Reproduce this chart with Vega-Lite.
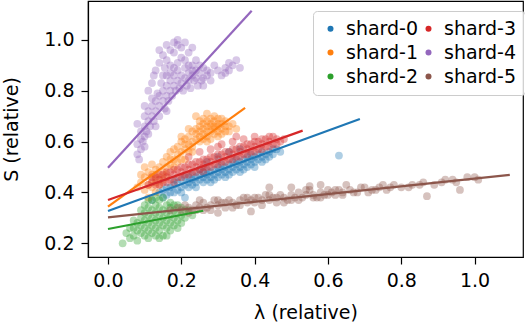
{
  "$schema": "https://vega.github.io/schema/vega-lite/v6.json",
  "width": 435,
  "height": 256,
  "autosize": {"type": "none"},
  "padding": {"left": 88, "top": 1, "right": 2, "bottom": 73},
  "background": "white",
  "config": {
    "font": "DejaVu Sans",
    "view": {"stroke": "#000", "strokeWidth": 1.2},
    "axis": {"domainColor": "#000", "domainWidth": 1.2, "tickColor": "#000", "tickWidth": 1.2, "tickSize": 7, "labelFontSize": 19, "titleFontSize": 19, "labelColor": "#000", "titleColor": "#000", "titleFontWeight": "normal", "grid": false, "labelFont": "DejaVu Sans", "titleFont": "DejaVu Sans", "labelPadding": 7}
  },
  "datasets": {
    "pts": [
      {"shard":"shard-0","lam":0.14,"S":0.40},{"shard":"shard-0","lam":0.15,"S":0.41},{"shard":"shard-0","lam":0.16,"S":0.39},{"shard":"shard-0","lam":0.17,"S":0.42},{"shard":"shard-0","lam":0.17,"S":0.40},{"shard":"shard-0","lam":0.18,"S":0.43},{"shard":"shard-0","lam":0.19,"S":0.41},{"shard":"shard-0","lam":0.19,"S":0.44},{"shard":"shard-0","lam":0.20,"S":0.42},{"shard":"shard-0","lam":0.20,"S":0.45},{"shard":"shard-0","lam":0.21,"S":0.43},{"shard":"shard-0","lam":0.22,"S":0.44},{"shard":"shard-0","lam":0.22,"S":0.46},{"shard":"shard-0","lam":0.23,"S":0.45},{"shard":"shard-0","lam":0.23,"S":0.43},{"shard":"shard-0","lam":0.24,"S":0.46},{"shard":"shard-0","lam":0.24,"S":0.44},{"shard":"shard-0","lam":0.25,"S":0.47},{"shard":"shard-0","lam":0.25,"S":0.45},{"shard":"shard-0","lam":0.26,"S":0.46},{"shard":"shard-0","lam":0.26,"S":0.48},{"shard":"shard-0","lam":0.27,"S":0.47},{"shard":"shard-0","lam":0.27,"S":0.45},{"shard":"shard-0","lam":0.28,"S":0.48},{"shard":"shard-0","lam":0.28,"S":0.46},{"shard":"shard-0","lam":0.29,"S":0.49},{"shard":"shard-0","lam":0.29,"S":0.47},{"shard":"shard-0","lam":0.30,"S":0.48},{"shard":"shard-0","lam":0.30,"S":0.50},{"shard":"shard-0","lam":0.31,"S":0.49},{"shard":"shard-0","lam":0.31,"S":0.47},{"shard":"shard-0","lam":0.32,"S":0.50},{"shard":"shard-0","lam":0.32,"S":0.48},{"shard":"shard-0","lam":0.33,"S":0.51},{"shard":"shard-0","lam":0.33,"S":0.49},{"shard":"shard-0","lam":0.34,"S":0.50},{"shard":"shard-0","lam":0.34,"S":0.52},{"shard":"shard-0","lam":0.35,"S":0.51},{"shard":"shard-0","lam":0.35,"S":0.49},{"shard":"shard-0","lam":0.36,"S":0.52},{"shard":"shard-0","lam":0.36,"S":0.50},{"shard":"shard-0","lam":0.37,"S":0.53},{"shard":"shard-0","lam":0.37,"S":0.51},{"shard":"shard-0","lam":0.38,"S":0.52},{"shard":"shard-0","lam":0.38,"S":0.54},{"shard":"shard-0","lam":0.39,"S":0.53},{"shard":"shard-0","lam":0.40,"S":0.54},{"shard":"shard-0","lam":0.40,"S":0.52},{"shard":"shard-0","lam":0.41,"S":0.55},{"shard":"shard-0","lam":0.42,"S":0.54},{"shard":"shard-0","lam":0.42,"S":0.56},{"shard":"shard-0","lam":0.43,"S":0.55},{"shard":"shard-0","lam":0.44,"S":0.56},{"shard":"shard-0","lam":0.45,"S":0.57},{"shard":"shard-0","lam":0.46,"S":0.57},{"shard":"shard-0","lam":0.30,"S":0.54},{"shard":"shard-0","lam":0.33,"S":0.56},{"shard":"shard-0","lam":0.27,"S":0.52},{"shard":"shard-0","lam":0.36,"S":0.57},{"shard":"shard-0","lam":0.63,"S":0.545},{"shard":"shard-0","lam":0.12,"S":0.37},{"shard":"shard-0","lam":0.21,"S":0.38},
      {"shard":"shard-0","lam":0.15,"S":0.38},{"shard":"shard-0","lam":0.16,"S":0.42},{"shard":"shard-0","lam":0.18,"S":0.40},{"shard":"shard-0","lam":0.18,"S":0.45},{"shard":"shard-0","lam":0.20,"S":0.40},{"shard":"shard-0","lam":0.21,"S":0.46},{"shard":"shard-0","lam":0.22,"S":0.42},{"shard":"shard-0","lam":0.23,"S":0.47},{"shard":"shard-0","lam":0.24,"S":0.42},{"shard":"shard-0","lam":0.25,"S":0.49},{"shard":"shard-0","lam":0.26,"S":0.44},{"shard":"shard-0","lam":0.27,"S":0.49},{"shard":"shard-0","lam":0.28,"S":0.44},{"shard":"shard-0","lam":0.29,"S":0.45},{"shard":"shard-0","lam":0.30,"S":0.46},{"shard":"shard-0","lam":0.31,"S":0.51},{"shard":"shard-0","lam":0.32,"S":0.46},{"shard":"shard-0","lam":0.33,"S":0.47},{"shard":"shard-0","lam":0.34,"S":0.48},{"shard":"shard-0","lam":0.35,"S":0.53},{"shard":"shard-0","lam":0.36,"S":0.48},{"shard":"shard-0","lam":0.37,"S":0.49},{"shard":"shard-0","lam":0.38,"S":0.50},{"shard":"shard-0","lam":0.39,"S":0.51},{"shard":"shard-0","lam":0.39,"S":0.55},{"shard":"shard-0","lam":0.40,"S":0.50},{"shard":"shard-0","lam":0.41,"S":0.53},{"shard":"shard-0","lam":0.42,"S":0.52},{"shard":"shard-0","lam":0.43,"S":0.53},{"shard":"shard-0","lam":0.44,"S":0.54},{"shard":"shard-0","lam":0.45,"S":0.55},{"shard":"shard-0","lam":0.47,"S":0.56},
      {"shard":"shard-1","lam":0.08,"S":0.42},{"shard":"shard-1","lam":0.09,"S":0.44},{"shard":"shard-1","lam":0.10,"S":0.41},{"shard":"shard-1","lam":0.10,"S":0.46},{"shard":"shard-1","lam":0.11,"S":0.43},{"shard":"shard-1","lam":0.11,"S":0.48},{"shard":"shard-1","lam":0.12,"S":0.45},{"shard":"shard-1","lam":0.12,"S":0.47},{"shard":"shard-1","lam":0.13,"S":0.44},{"shard":"shard-1","lam":0.13,"S":0.49},{"shard":"shard-1","lam":0.14,"S":0.46},{"shard":"shard-1","lam":0.14,"S":0.50},{"shard":"shard-1","lam":0.15,"S":0.48},{"shard":"shard-1","lam":0.15,"S":0.52},{"shard":"shard-1","lam":0.16,"S":0.50},{"shard":"shard-1","lam":0.16,"S":0.54},{"shard":"shard-1","lam":0.17,"S":0.51},{"shard":"shard-1","lam":0.17,"S":0.56},{"shard":"shard-1","lam":0.18,"S":0.53},{"shard":"shard-1","lam":0.18,"S":0.57},{"shard":"shard-1","lam":0.19,"S":0.55},{"shard":"shard-1","lam":0.19,"S":0.58},{"shard":"shard-1","lam":0.20,"S":0.56},{"shard":"shard-1","lam":0.20,"S":0.60},{"shard":"shard-1","lam":0.21,"S":0.57},{"shard":"shard-1","lam":0.21,"S":0.61},{"shard":"shard-1","lam":0.22,"S":0.59},{"shard":"shard-1","lam":0.22,"S":0.62},{"shard":"shard-1","lam":0.23,"S":0.60},{"shard":"shard-1","lam":0.23,"S":0.64},{"shard":"shard-1","lam":0.24,"S":0.61},{"shard":"shard-1","lam":0.24,"S":0.65},{"shard":"shard-1","lam":0.25,"S":0.62},{"shard":"shard-1","lam":0.25,"S":0.66},{"shard":"shard-1","lam":0.25,"S":0.64},{"shard":"shard-1","lam":0.26,"S":0.63},{"shard":"shard-1","lam":0.26,"S":0.67},{"shard":"shard-1","lam":0.26,"S":0.65},{"shard":"shard-1","lam":0.27,"S":0.62},{"shard":"shard-1","lam":0.27,"S":0.66},{"shard":"shard-1","lam":0.27,"S":0.68},{"shard":"shard-1","lam":0.28,"S":0.64},{"shard":"shard-1","lam":0.28,"S":0.67},{"shard":"shard-1","lam":0.28,"S":0.61},{"shard":"shard-1","lam":0.29,"S":0.65},{"shard":"shard-1","lam":0.29,"S":0.68},{"shard":"shard-1","lam":0.29,"S":0.63},{"shard":"shard-1","lam":0.30,"S":0.66},{"shard":"shard-1","lam":0.30,"S":0.64},{"shard":"shard-1","lam":0.30,"S":0.69},{"shard":"shard-1","lam":0.31,"S":0.65},{"shard":"shard-1","lam":0.31,"S":0.67},{"shard":"shard-1","lam":0.32,"S":0.66},{"shard":"shard-1","lam":0.33,"S":0.64},{"shard":"shard-1","lam":0.24,"S":0.70},{"shard":"shard-1","lam":0.27,"S":0.71},{"shard":"shard-1","lam":0.29,"S":0.70},{"shard":"shard-1","lam":0.11,"S":0.38},{"shard":"shard-1","lam":0.13,"S":0.40},{"shard":"shard-1","lam":0.21,"S":0.53},{"shard":"shard-1","lam":0.23,"S":0.56},{"shard":"shard-1","lam":0.34,"S":0.67},
      {"shard":"shard-1","lam":0.09,"S":0.47},{"shard":"shard-1","lam":0.10,"S":0.50},{"shard":"shard-1","lam":0.12,"S":0.42},{"shard":"shard-1","lam":0.12,"S":0.51},{"shard":"shard-1","lam":0.13,"S":0.47},{"shard":"shard-1","lam":0.14,"S":0.43},{"shard":"shard-1","lam":0.15,"S":0.45},{"shard":"shard-1","lam":0.16,"S":0.47},{"shard":"shard-1","lam":0.17,"S":0.53},{"shard":"shard-1","lam":0.18,"S":0.50},{"shard":"shard-1","lam":0.19,"S":0.52},{"shard":"shard-1","lam":0.20,"S":0.53},{"shard":"shard-1","lam":0.21,"S":0.59},{"shard":"shard-1","lam":0.22,"S":0.56},{"shard":"shard-1","lam":0.23,"S":0.58},{"shard":"shard-1","lam":0.24,"S":0.63},{"shard":"shard-1","lam":0.25,"S":0.68},{"shard":"shard-1","lam":0.26,"S":0.61},{"shard":"shard-1","lam":0.26,"S":0.69},{"shard":"shard-1","lam":0.27,"S":0.64},{"shard":"shard-1","lam":0.28,"S":0.69},{"shard":"shard-1","lam":0.28,"S":0.66},{"shard":"shard-1","lam":0.29,"S":0.66},{"shard":"shard-1","lam":0.30,"S":0.62},{"shard":"shard-1","lam":0.30,"S":0.67},{"shard":"shard-1","lam":0.31,"S":0.63},{"shard":"shard-1","lam":0.31,"S":0.69},{"shard":"shard-1","lam":0.32,"S":0.64},{"shard":"shard-1","lam":0.32,"S":0.68},{"shard":"shard-1","lam":0.33,"S":0.66},{"shard":"shard-1","lam":0.25,"S":0.60},{"shard":"shard-1","lam":0.27,"S":0.60},{"shard":"shard-1","lam":0.22,"S":0.65},{"shard":"shard-1","lam":0.20,"S":0.62},{"shard":"shard-1","lam":0.35,"S":0.65},
      {"shard":"shard-2","lam":0.05,"S":0.24},{"shard":"shard-2","lam":0.06,"S":0.22},{"shard":"shard-2","lam":0.07,"S":0.26},{"shard":"shard-2","lam":0.07,"S":0.23},{"shard":"shard-2","lam":0.08,"S":0.28},{"shard":"shard-2","lam":0.08,"S":0.25},{"shard":"shard-2","lam":0.09,"S":0.30},{"shard":"shard-2","lam":0.09,"S":0.27},{"shard":"shard-2","lam":0.09,"S":0.24},{"shard":"shard-2","lam":0.10,"S":0.32},{"shard":"shard-2","lam":0.10,"S":0.29},{"shard":"shard-2","lam":0.10,"S":0.26},{"shard":"shard-2","lam":0.10,"S":0.23},{"shard":"shard-2","lam":0.11,"S":0.34},{"shard":"shard-2","lam":0.11,"S":0.31},{"shard":"shard-2","lam":0.11,"S":0.28},{"shard":"shard-2","lam":0.11,"S":0.25},{"shard":"shard-2","lam":0.12,"S":0.33},{"shard":"shard-2","lam":0.12,"S":0.30},{"shard":"shard-2","lam":0.12,"S":0.27},{"shard":"shard-2","lam":0.12,"S":0.24},{"shard":"shard-2","lam":0.13,"S":0.35},{"shard":"shard-2","lam":0.13,"S":0.32},{"shard":"shard-2","lam":0.13,"S":0.29},{"shard":"shard-2","lam":0.13,"S":0.26},{"shard":"shard-2","lam":0.14,"S":0.34},{"shard":"shard-2","lam":0.14,"S":0.31},{"shard":"shard-2","lam":0.14,"S":0.28},{"shard":"shard-2","lam":0.14,"S":0.25},{"shard":"shard-2","lam":0.15,"S":0.33},{"shard":"shard-2","lam":0.15,"S":0.30},{"shard":"shard-2","lam":0.15,"S":0.27},{"shard":"shard-2","lam":0.15,"S":0.23},{"shard":"shard-2","lam":0.16,"S":0.35},{"shard":"shard-2","lam":0.16,"S":0.32},{"shard":"shard-2","lam":0.16,"S":0.29},{"shard":"shard-2","lam":0.16,"S":0.26},{"shard":"shard-2","lam":0.17,"S":0.34},{"shard":"shard-2","lam":0.17,"S":0.31},{"shard":"shard-2","lam":0.17,"S":0.28},{"shard":"shard-2","lam":0.18,"S":0.33},{"shard":"shard-2","lam":0.18,"S":0.30},{"shard":"shard-2","lam":0.18,"S":0.27},{"shard":"shard-2","lam":0.19,"S":0.32},{"shard":"shard-2","lam":0.19,"S":0.29},{"shard":"shard-2","lam":0.20,"S":0.31},{"shard":"shard-2","lam":0.20,"S":0.34},{"shard":"shard-2","lam":0.21,"S":0.30},{"shard":"shard-2","lam":0.22,"S":0.33},{"shard":"shard-2","lam":0.12,"S":0.37},{"shard":"shard-2","lam":0.15,"S":0.38},{"shard":"shard-2","lam":0.04,"S":0.20},{"shard":"shard-2","lam":0.08,"S":0.21},{"shard":"shard-2","lam":0.23,"S":0.31},
      {"shard":"shard-2","lam":0.09,"S":0.33},{"shard":"shard-2","lam":0.10,"S":0.35},{"shard":"shard-2","lam":0.11,"S":0.37},{"shard":"shard-2","lam":0.13,"S":0.38},{"shard":"shard-2","lam":0.14,"S":0.37},{"shard":"shard-2","lam":0.17,"S":0.36},{"shard":"shard-2","lam":0.18,"S":0.35},{"shard":"shard-2","lam":0.19,"S":0.35},{"shard":"shard-2","lam":0.20,"S":0.28},{"shard":"shard-2","lam":0.21,"S":0.33},{"shard":"shard-2","lam":0.13,"S":0.23},{"shard":"shard-2","lam":0.14,"S":0.22},{"shard":"shard-2","lam":0.11,"S":0.22},{"shard":"shard-2","lam":0.06,"S":0.26},{"shard":"shard-2","lam":0.07,"S":0.29},{"shard":"shard-2","lam":0.17,"S":0.25},{"shard":"shard-2","lam":0.19,"S":0.26},{"shard":"shard-2","lam":0.16,"S":0.23},
      {"shard":"shard-3","lam":0.11,"S":0.43},{"shard":"shard-3","lam":0.12,"S":0.44},{"shard":"shard-3","lam":0.13,"S":0.43},{"shard":"shard-3","lam":0.13,"S":0.46},{"shard":"shard-3","lam":0.14,"S":0.45},{"shard":"shard-3","lam":0.15,"S":0.44},{"shard":"shard-3","lam":0.15,"S":0.47},{"shard":"shard-3","lam":0.16,"S":0.46},{"shard":"shard-3","lam":0.17,"S":0.45},{"shard":"shard-3","lam":0.17,"S":0.48},{"shard":"shard-3","lam":0.18,"S":0.47},{"shard":"shard-3","lam":0.19,"S":0.46},{"shard":"shard-3","lam":0.19,"S":0.49},{"shard":"shard-3","lam":0.20,"S":0.48},{"shard":"shard-3","lam":0.21,"S":0.47},{"shard":"shard-3","lam":0.21,"S":0.50},{"shard":"shard-3","lam":0.22,"S":0.49},{"shard":"shard-3","lam":0.23,"S":0.48},{"shard":"shard-3","lam":0.23,"S":0.51},{"shard":"shard-3","lam":0.24,"S":0.50},{"shard":"shard-3","lam":0.25,"S":0.49},{"shard":"shard-3","lam":0.25,"S":0.52},{"shard":"shard-3","lam":0.26,"S":0.51},{"shard":"shard-3","lam":0.27,"S":0.50},{"shard":"shard-3","lam":0.27,"S":0.53},{"shard":"shard-3","lam":0.28,"S":0.52},{"shard":"shard-3","lam":0.29,"S":0.51},{"shard":"shard-3","lam":0.29,"S":0.54},{"shard":"shard-3","lam":0.30,"S":0.53},{"shard":"shard-3","lam":0.31,"S":0.52},{"shard":"shard-3","lam":0.31,"S":0.55},{"shard":"shard-3","lam":0.32,"S":0.54},{"shard":"shard-3","lam":0.33,"S":0.53},{"shard":"shard-3","lam":0.33,"S":0.56},{"shard":"shard-3","lam":0.34,"S":0.55},{"shard":"shard-3","lam":0.35,"S":0.54},{"shard":"shard-3","lam":0.35,"S":0.57},{"shard":"shard-3","lam":0.36,"S":0.56},{"shard":"shard-3","lam":0.37,"S":0.55},{"shard":"shard-3","lam":0.37,"S":0.58},{"shard":"shard-3","lam":0.38,"S":0.57},{"shard":"shard-3","lam":0.39,"S":0.56},{"shard":"shard-3","lam":0.39,"S":0.59},{"shard":"shard-3","lam":0.40,"S":0.58},{"shard":"shard-3","lam":0.41,"S":0.57},{"shard":"shard-3","lam":0.41,"S":0.60},{"shard":"shard-3","lam":0.42,"S":0.59},{"shard":"shard-3","lam":0.43,"S":0.58},{"shard":"shard-3","lam":0.43,"S":0.61},{"shard":"shard-3","lam":0.44,"S":0.60},{"shard":"shard-3","lam":0.45,"S":0.59},{"shard":"shard-3","lam":0.46,"S":0.61},{"shard":"shard-3","lam":0.47,"S":0.60},{"shard":"shard-3","lam":0.25,"S":0.56},{"shard":"shard-3","lam":0.28,"S":0.57},{"shard":"shard-3","lam":0.31,"S":0.59},{"shard":"shard-3","lam":0.34,"S":0.60},{"shard":"shard-3","lam":0.37,"S":0.61},{"shard":"shard-3","lam":0.40,"S":0.62},{"shard":"shard-3","lam":0.30,"S":0.58},{"shard":"shard-3","lam":0.35,"S":0.62},{"shard":"shard-3","lam":0.22,"S":0.54},{"shard":"shard-3","lam":0.18,"S":0.44},{"shard":"shard-3","lam":0.26,"S":0.48},
      {"shard":"shard-3","lam":0.12,"S":0.46},{"shard":"shard-3","lam":0.14,"S":0.43},{"shard":"shard-3","lam":0.14,"S":0.47},{"shard":"shard-3","lam":0.16,"S":0.44},{"shard":"shard-3","lam":0.16,"S":0.48},{"shard":"shard-3","lam":0.18,"S":0.49},{"shard":"shard-3","lam":0.20,"S":0.46},{"shard":"shard-3","lam":0.20,"S":0.50},{"shard":"shard-3","lam":0.22,"S":0.47},{"shard":"shard-3","lam":0.22,"S":0.51},{"shard":"shard-3","lam":0.24,"S":0.48},{"shard":"shard-3","lam":0.24,"S":0.52},{"shard":"shard-3","lam":0.26,"S":0.50},{"shard":"shard-3","lam":0.26,"S":0.53},{"shard":"shard-3","lam":0.28,"S":0.50},{"shard":"shard-3","lam":0.28,"S":0.54},{"shard":"shard-3","lam":0.30,"S":0.51},{"shard":"shard-3","lam":0.30,"S":0.55},{"shard":"shard-3","lam":0.32,"S":0.52},{"shard":"shard-3","lam":0.32,"S":0.56},{"shard":"shard-3","lam":0.34,"S":0.53},{"shard":"shard-3","lam":0.34,"S":0.57},{"shard":"shard-3","lam":0.36,"S":0.54},{"shard":"shard-3","lam":0.36,"S":0.58},{"shard":"shard-3","lam":0.38,"S":0.55},{"shard":"shard-3","lam":0.38,"S":0.59},{"shard":"shard-3","lam":0.40,"S":0.56},{"shard":"shard-3","lam":0.40,"S":0.60},{"shard":"shard-3","lam":0.42,"S":0.57},{"shard":"shard-3","lam":0.42,"S":0.61},{"shard":"shard-3","lam":0.44,"S":0.58},{"shard":"shard-3","lam":0.44,"S":0.62},{"shard":"shard-3","lam":0.46,"S":0.59},{"shard":"shard-3","lam":0.48,"S":0.61},{"shard":"shard-3","lam":0.45,"S":0.62},
      {"shard":"shard-4","lam":0.08,"S":0.55},{"shard":"shard-4","lam":0.09,"S":0.57},{"shard":"shard-4","lam":0.08,"S":0.59},{"shard":"shard-4","lam":0.09,"S":0.61},{"shard":"shard-4","lam":0.10,"S":0.58},{"shard":"shard-4","lam":0.09,"S":0.64},{"shard":"shard-4","lam":0.10,"S":0.62},{"shard":"shard-4","lam":0.10,"S":0.66},{"shard":"shard-4","lam":0.11,"S":0.63},{"shard":"shard-4","lam":0.11,"S":0.68},{"shard":"shard-4","lam":0.10,"S":0.70},{"shard":"shard-4","lam":0.11,"S":0.72},{"shard":"shard-4","lam":0.12,"S":0.70},{"shard":"shard-4","lam":0.12,"S":0.74},{"shard":"shard-4","lam":0.13,"S":0.72},{"shard":"shard-4","lam":0.13,"S":0.76},{"shard":"shard-4","lam":0.14,"S":0.74},{"shard":"shard-4","lam":0.14,"S":0.78},{"shard":"shard-4","lam":0.15,"S":0.76},{"shard":"shard-4","lam":0.15,"S":0.80},{"shard":"shard-4","lam":0.16,"S":0.78},{"shard":"shard-4","lam":0.16,"S":0.82},{"shard":"shard-4","lam":0.17,"S":0.80},{"shard":"shard-4","lam":0.17,"S":0.84},{"shard":"shard-4","lam":0.18,"S":0.82},{"shard":"shard-4","lam":0.18,"S":0.86},{"shard":"shard-4","lam":0.19,"S":0.84},{"shard":"shard-4","lam":0.19,"S":0.88},{"shard":"shard-4","lam":0.20,"S":0.83},{"shard":"shard-4","lam":0.20,"S":0.86},{"shard":"shard-4","lam":0.21,"S":0.85},{"shard":"shard-4","lam":0.21,"S":0.89},{"shard":"shard-4","lam":0.22,"S":0.84},{"shard":"shard-4","lam":0.22,"S":0.87},{"shard":"shard-4","lam":0.23,"S":0.86},{"shard":"shard-4","lam":0.23,"S":0.90},{"shard":"shard-4","lam":0.24,"S":0.85},{"shard":"shard-4","lam":0.24,"S":0.88},{"shard":"shard-4","lam":0.25,"S":0.87},{"shard":"shard-4","lam":0.26,"S":0.85},{"shard":"shard-4","lam":0.26,"S":0.89},{"shard":"shard-4","lam":0.27,"S":0.86},{"shard":"shard-4","lam":0.13,"S":0.88},{"shard":"shard-4","lam":0.14,"S":0.91},{"shard":"shard-4","lam":0.15,"S":0.94},{"shard":"shard-4","lam":0.16,"S":0.92},{"shard":"shard-4","lam":0.17,"S":0.96},{"shard":"shard-4","lam":0.18,"S":0.95},{"shard":"shard-4","lam":0.19,"S":0.98},{"shard":"shard-4","lam":0.20,"S":0.97},{"shard":"shard-4","lam":0.21,"S":0.99},{"shard":"shard-4","lam":0.22,"S":0.95},{"shard":"shard-4","lam":0.23,"S":0.97},{"shard":"shard-4","lam":0.17,"S":0.90},{"shard":"shard-4","lam":0.15,"S":0.86},{"shard":"shard-4","lam":0.12,"S":0.83},{"shard":"shard-4","lam":0.31,"S":0.86},{"shard":"shard-4","lam":0.32,"S":0.89},{"shard":"shard-4","lam":0.33,"S":0.91},{"shard":"shard-4","lam":0.34,"S":0.90},{"shard":"shard-4","lam":0.32,"S":0.87},{"shard":"shard-4","lam":0.30,"S":0.88},{"shard":"shard-4","lam":0.35,"S":0.92},{"shard":"shard-4","lam":0.13,"S":0.66},{"shard":"shard-4","lam":0.16,"S":0.72},{"shard":"shard-4","lam":0.08,"S":0.67},
      {"shard":"shard-4","lam":0.085,"S":0.53},{"shard":"shard-4","lam":0.095,"S":0.60},{"shard":"shard-4","lam":0.105,"S":0.64},{"shard":"shard-4","lam":0.115,"S":0.66},{"shard":"shard-4","lam":0.12,"S":0.77},{"shard":"shard-4","lam":0.125,"S":0.68},{"shard":"shard-4","lam":0.135,"S":0.79},{"shard":"shard-4","lam":0.14,"S":0.70},{"shard":"shard-4","lam":0.145,"S":0.83},{"shard":"shard-4","lam":0.155,"S":0.73},{"shard":"shard-4","lam":0.16,"S":0.86},{"shard":"shard-4","lam":0.165,"S":0.76},{"shard":"shard-4","lam":0.17,"S":0.87},{"shard":"shard-4","lam":0.175,"S":0.78},{"shard":"shard-4","lam":0.18,"S":0.89},{"shard":"shard-4","lam":0.185,"S":0.80},{"shard":"shard-4","lam":0.19,"S":0.91},{"shard":"shard-4","lam":0.195,"S":0.81},{"shard":"shard-4","lam":0.20,"S":0.93},{"shard":"shard-4","lam":0.205,"S":0.80},{"shard":"shard-4","lam":0.21,"S":0.92},{"shard":"shard-4","lam":0.215,"S":0.82},{"shard":"shard-4","lam":0.22,"S":0.90},{"shard":"shard-4","lam":0.225,"S":0.81},{"shard":"shard-4","lam":0.23,"S":0.88},{"shard":"shard-4","lam":0.235,"S":0.84},{"shard":"shard-4","lam":0.24,"S":0.92},{"shard":"shard-4","lam":0.245,"S":0.82},{"shard":"shard-4","lam":0.25,"S":0.90},{"shard":"shard-4","lam":0.255,"S":0.84},{"shard":"shard-4","lam":0.26,"S":0.82},{"shard":"shard-4","lam":0.27,"S":0.88},{"shard":"shard-4","lam":0.28,"S":0.87},{"shard":"shard-4","lam":0.28,"S":0.84},{"shard":"shard-4","lam":0.14,"S":0.96},{"shard":"shard-4","lam":0.16,"S":0.98},{"shard":"shard-4","lam":0.18,"S":0.99},{"shard":"shard-4","lam":0.19,"S":1.0},{"shard":"shard-4","lam":0.155,"S":0.89},{"shard":"shard-4","lam":0.125,"S":0.86},{"shard":"shard-4","lam":0.11,"S":0.80},{"shard":"shard-4","lam":0.10,"S":0.74},{"shard":"shard-4","lam":0.29,"S":0.90},{"shard":"shard-4","lam":0.33,"S":0.88},{"shard":"shard-4","lam":0.36,"S":0.89},
      {"shard":"shard-5","lam":0.17,"S":0.33},{"shard":"shard-5","lam":0.19,"S":0.34},{"shard":"shard-5","lam":0.20,"S":0.33},{"shard":"shard-5","lam":0.21,"S":0.35},{"shard":"shard-5","lam":0.22,"S":0.34},{"shard":"shard-5","lam":0.23,"S":0.33},{"shard":"shard-5","lam":0.24,"S":0.35},{"shard":"shard-5","lam":0.25,"S":0.34},{"shard":"shard-5","lam":0.26,"S":0.36},{"shard":"shard-5","lam":0.27,"S":0.34},{"shard":"shard-5","lam":0.28,"S":0.35},{"shard":"shard-5","lam":0.29,"S":0.37},{"shard":"shard-5","lam":0.30,"S":0.35},{"shard":"shard-5","lam":0.31,"S":0.36},{"shard":"shard-5","lam":0.32,"S":0.34},{"shard":"shard-5","lam":0.33,"S":0.37},{"shard":"shard-5","lam":0.34,"S":0.36},{"shard":"shard-5","lam":0.35,"S":0.35},{"shard":"shard-5","lam":0.36,"S":0.37},{"shard":"shard-5","lam":0.37,"S":0.38},{"shard":"shard-5","lam":0.38,"S":0.36},{"shard":"shard-5","lam":0.39,"S":0.37},{"shard":"shard-5","lam":0.40,"S":0.36},{"shard":"shard-5","lam":0.41,"S":0.38},{"shard":"shard-5","lam":0.42,"S":0.37},{"shard":"shard-5","lam":0.43,"S":0.39},{"shard":"shard-5","lam":0.44,"S":0.37},{"shard":"shard-5","lam":0.45,"S":0.38},{"shard":"shard-5","lam":0.46,"S":0.36},{"shard":"shard-5","lam":0.47,"S":0.39},{"shard":"shard-5","lam":0.48,"S":0.38},{"shard":"shard-5","lam":0.49,"S":0.37},{"shard":"shard-5","lam":0.50,"S":0.39},{"shard":"shard-5","lam":0.51,"S":0.38},{"shard":"shard-5","lam":0.52,"S":0.40},{"shard":"shard-5","lam":0.53,"S":0.38},{"shard":"shard-5","lam":0.54,"S":0.39},{"shard":"shard-5","lam":0.55,"S":0.41},{"shard":"shard-5","lam":0.56,"S":0.39},{"shard":"shard-5","lam":0.57,"S":0.38},{"shard":"shard-5","lam":0.58,"S":0.40},{"shard":"shard-5","lam":0.59,"S":0.39},{"shard":"shard-5","lam":0.60,"S":0.41},{"shard":"shard-5","lam":0.61,"S":0.40},{"shard":"shard-5","lam":0.62,"S":0.39},{"shard":"shard-5","lam":0.63,"S":0.41},{"shard":"shard-5","lam":0.64,"S":0.40},{"shard":"shard-5","lam":0.66,"S":0.41},{"shard":"shard-5","lam":0.68,"S":0.40},{"shard":"shard-5","lam":0.70,"S":0.42},{"shard":"shard-5","lam":0.72,"S":0.41},{"shard":"shard-5","lam":0.74,"S":0.42},{"shard":"shard-5","lam":0.76,"S":0.41},{"shard":"shard-5","lam":0.78,"S":0.43},{"shard":"shard-5","lam":0.80,"S":0.42},{"shard":"shard-5","lam":0.83,"S":0.43},{"shard":"shard-5","lam":0.86,"S":0.44},{"shard":"shard-5","lam":0.89,"S":0.43},{"shard":"shard-5","lam":0.92,"S":0.45},{"shard":"shard-5","lam":0.95,"S":0.44},{"shard":"shard-5","lam":0.98,"S":0.46},{"shard":"shard-5","lam":1.01,"S":0.45},{"shard":"shard-5","lam":0.39,"S":0.325},{"shard":"shard-5","lam":0.87,"S":0.385},{"shard":"shard-5","lam":0.96,"S":0.41},{"shard":"shard-5","lam":0.44,"S":0.42},{"shard":"shard-5","lam":0.55,"S":0.425},{"shard":"shard-5","lam":0.30,"S":0.32},{"shard":"shard-5","lam":0.25,"S":0.37},{"shard":"shard-5","lam":0.50,"S":0.42},{"shard":"shard-5","lam":0.58,"S":0.43},{"shard":"shard-5","lam":0.65,"S":0.43},
      {"shard":"shard-5","lam":0.22,"S":0.32},{"shard":"shard-5","lam":0.24,"S":0.33},{"shard":"shard-5","lam":0.26,"S":0.33},{"shard":"shard-5","lam":0.28,"S":0.33},{"shard":"shard-5","lam":0.30,"S":0.37},{"shard":"shard-5","lam":0.32,"S":0.36},{"shard":"shard-5","lam":0.34,"S":0.34},{"shard":"shard-5","lam":0.36,"S":0.35},{"shard":"shard-5","lam":0.38,"S":0.38},{"shard":"shard-5","lam":0.40,"S":0.38},{"shard":"shard-5","lam":0.42,"S":0.35},{"shard":"shard-5","lam":0.44,"S":0.39},{"shard":"shard-5","lam":0.46,"S":0.38},{"shard":"shard-5","lam":0.48,"S":0.36},{"shard":"shard-5","lam":0.50,"S":0.37},{"shard":"shard-5","lam":0.52,"S":0.37},{"shard":"shard-5","lam":0.54,"S":0.41},{"shard":"shard-5","lam":0.56,"S":0.38},{"shard":"shard-5","lam":0.58,"S":0.38},{"shard":"shard-5","lam":0.60,"S":0.39},{"shard":"shard-5","lam":0.62,"S":0.41},{"shard":"shard-5","lam":0.64,"S":0.39},{"shard":"shard-5","lam":0.67,"S":0.40},{"shard":"shard-5","lam":0.69,"S":0.42},{"shard":"shard-5","lam":0.71,"S":0.40},{"shard":"shard-5","lam":0.73,"S":0.41},{"shard":"shard-5","lam":0.75,"S":0.43},{"shard":"shard-5","lam":0.77,"S":0.42},{"shard":"shard-5","lam":0.82,"S":0.42},{"shard":"shard-5","lam":0.85,"S":0.43},{"shard":"shard-5","lam":0.91,"S":0.44},{"shard":"shard-5","lam":0.94,"S":0.45},{"shard":"shard-5","lam":1.00,"S":0.46}
    ],
    "fits": [
      {"shard":"shard-0","lam":0,"S":0.327},{"shard":"shard-0","lam":0.687,"S":0.689},
      {"shard":"shard-1","lam":0,"S":0.344},{"shard":"shard-1","lam":0.374,"S":0.733},
      {"shard":"shard-2","lam":0,"S":0.256},{"shard":"shard-2","lam":0.26,"S":0.328},
      {"shard":"shard-3","lam":0,"S":0.370},{"shard":"shard-3","lam":0.531,"S":0.643},
      {"shard":"shard-4","lam":0,"S":0.497},{"shard":"shard-4","lam":0.392,"S":1.115},
      {"shard":"shard-5","lam":0,"S":0.302},{"shard":"shard-5","lam":1.096,"S":0.469}
    ]
  },
  "encoding": {
    "x": {"field": "lam", "type": "quantitative", "scale": {"domain": [-0.0545, 1.132], "nice": false, "zero": false}, "axis": {"values": [0, 0.2, 0.4, 0.6, 0.8, 1.0], "format": ".1f", "title": "λ (relative)", "labelFlush": false, "titlePadding": 13}},
    "y": {"field": "S", "type": "quantitative", "scale": {"domain": [0.146, 1.153], "nice": false, "zero": false}, "axis": {"values": [0.2, 0.4, 0.6, 0.8, 1.0], "format": ".1f", "title": "S (relative)", "labelFlush": false, "titlePadding": 22}},
    "color": {"field": "shard", "type": "nominal", "scale": {"domain": ["shard-0", "shard-1", "shard-2", "shard-3", "shard-4", "shard-5"], "range": ["#1f77b4", "#ff7f0e", "#2ca02c", "#d62728", "#9467bd", "#8c564b"]},
      "legend": {"orient": "none", "legendX": 225, "legendY": 10, "columns": 2, "title": null, "symbolType": "circle", "symbolSize": 36, "symbolOpacity": 1, "symbolStrokeWidth": 0, "labelFontSize": 19, "labelFont": "DejaVu Sans", "labelColor": "#000", "strokeColor": "#cccccc", "fillColor": "rgba(255,255,255,0.8)", "cornerRadius": 4, "padding": 8, "rowPadding": 4, "columnPadding": 0, "labelOffset": 6}}
  },
  "layer": [
    {"data": {"name": "pts"}, "mark": {"type": "circle", "size": 60, "opacity": 0.36}},
    {"data": {"name": "fits"}, "mark": {"type": "line", "strokeWidth": 2.2}}
  ]
}
